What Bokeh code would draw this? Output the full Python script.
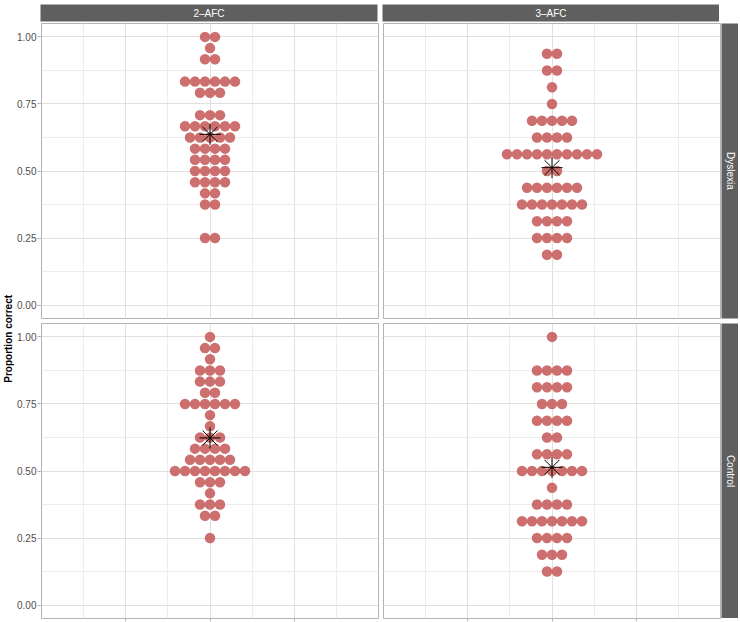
import math
from bokeh.plotting import figure
from bokeh.layouts import row, column
from bokeh.models import Range1d, FixedTicker, Label, Spacer
from bokeh.embed import file_html
from bokeh.resources import INLINE

# ---------------- data ----------------
col_labels = ["2\u2013AFC", "3\u2013AFC"]
row_labels = ["Dyslexia", "Control"]
y_label = "Proportion correct"
y_ticks = [0.0, 0.25, 0.5, 0.75, 1.0]
y_tick_labels = ["0.00", "0.25", "0.50", "0.75", "1.00"]

# 2-AFC, Dyslexia: proportion levels and number of participants at each
afc2_dys_prop = [1.0, 0.9583, 0.9167, 0.8333, 0.7917, 0.7083, 0.6667, 0.625,
                 0.5833, 0.5417, 0.5, 0.4583, 0.4167, 0.375, 0.25]
afc2_dys_count = [2, 1, 2, 6, 3, 3, 6, 5, 4, 4, 4, 4, 2, 2, 2]

# 3-AFC, Dyslexia
afc3_dys_prop = [0.9375, 0.875, 0.8125, 0.75, 0.6875, 0.625, 0.5625, 0.5,
                 0.4375, 0.375, 0.3125, 0.25, 0.1875]
afc3_dys_count = [2, 2, 1, 1, 5, 4, 10, 2, 6, 7, 4, 4, 2]

# 2-AFC, Control
afc2_ctl_prop = [1.0, 0.9583, 0.9167, 0.875, 0.8333, 0.7917, 0.75, 0.7083, 0.6667,
                 0.625, 0.5833, 0.5417, 0.5, 0.4583, 0.4167, 0.375, 0.3333, 0.25]
afc2_ctl_count = [1, 2, 1, 3, 3, 2, 6, 1, 1, 3, 4, 5, 8, 3, 1, 3, 2, 1]

# 3-AFC, Control
afc3_ctl_prop = [1.0, 0.875, 0.8125, 0.75, 0.6875, 0.625, 0.5625, 0.5, 0.4375,
                 0.375, 0.3125, 0.25, 0.1875, 0.125]
afc3_ctl_count = [1, 4, 4, 3, 4, 2, 4, 7, 1, 4, 7, 4, 3, 2]

# ---------------- layout / style ----------------
TOP, LAB, AX, W, GAP, SGAP, RGAP, STRIP, H, BOT = 4, 14, 26, 337, 5, 2, 1, 17, 295, 4
DOT = 10.5
FONT = "Liberation Sans"
STRIP_FILL = "#5f5f5f"
DOT_COLOR = "#c85f5f"
BORDER = "#b3b3b3"
GRID_MAJOR = "#e0e0e0"
GRID_MINOR = "#ececec"
XR = (-2.0, 2.0)
YR = (-0.05, 1.05)


def swarm(props, counts):
    dx = 10.0 * (XR[1] - XR[0]) / W
    xs, ys = [], []
    for pv, n in zip(props, counts):
        for i in range(n):
            xs.append((i - (n - 1) / 2.0) * dx)
            ys.append(pv)
    return xs, ys


def mean_of(props, counts):
    return sum(p * c for p, c in zip(props, counts)) / sum(counts)


def panel(props, counts, left_axis, bottom_axis, mb_right, mb_bottom):
    p = figure(frame_width=W, frame_height=H, x_range=Range1d(*XR), y_range=Range1d(*YR),
               x_axis_location="below" if bottom_axis else None,
               y_axis_location="left" if left_axis else None,
               title=None, toolbar_location=None, output_backend="svg",
               min_border=0, min_border_left=AX if left_axis else 0,
               min_border_right=mb_right, min_border_bottom=mb_bottom, min_border_top=0,
               background_fill_color="white", border_fill_color="white",
               outline_line_color=BORDER, outline_line_width=1)
    p.xgrid.ticker = FixedTicker(ticks=[-1, 0, 1], minor_ticks=[-1.5, -0.5, 0.5, 1.5])
    p.ygrid.ticker = FixedTicker(ticks=y_ticks, minor_ticks=[0.125, 0.375, 0.625, 0.875])
    for g in (p.xgrid, p.ygrid):
        g.grid_line_color = GRID_MAJOR
        g.grid_line_width = 1
        g.minor_grid_line_color = GRID_MINOR
        g.minor_grid_line_width = 1
    if left_axis:
        ax = p.yaxis[0]
        ax.ticker = FixedTicker(ticks=y_ticks)
        ax.major_label_overrides = dict(zip(y_ticks, y_tick_labels))
        ax.axis_line_color = None
        ax.major_tick_out = 4
        ax.major_tick_in = 0
        ax.minor_tick_out = 0
        ax.minor_tick_in = 0
        ax.major_tick_line_color = BORDER
        ax.major_label_standoff = 1
        ax.major_label_text_font = FONT
        ax.major_label_text_font_size = "10px"
        ax.major_label_text_color = "#4d4d4d"
    if bottom_axis:
        bx = p.xaxis[0]
        bx.ticker = FixedTicker(ticks=[-1, 0, 1])
        bx.major_label_overrides = {-1: "", 0: "", 1: ""}
        bx.axis_line_color = None
        bx.major_tick_out = 3
        bx.major_tick_in = 0
        bx.minor_tick_out = 0
        bx.minor_tick_in = 0
        bx.major_tick_line_color = BORDER
        bx.major_label_standoff = 0
        bx.major_label_text_font_size = "1px"
    xs, ys = swarm(props, counts)
    p.scatter(xs, ys, marker="circle", size=DOT, fill_color=DOT_COLOR, fill_alpha=0.9,
              line_color=None)
    m = mean_of(props, counts)
    p.scatter([0], [m], marker="asterisk", size=21, line_color="black", line_width=1)
    return p


def strip(text, fw, fh, angle, mb_right=0, mb_bottom=0, mb_top=0):
    s = figure(frame_width=fw, frame_height=fh, x_range=Range1d(0, 1), y_range=Range1d(0, 1),
               x_axis_location=None, y_axis_location=None, title=None,
               toolbar_location=None, output_backend="svg",
               min_border=0, min_border_right=mb_right, min_border_bottom=mb_bottom,
               min_border_left=0, min_border_top=mb_top,
               background_fill_color=STRIP_FILL, border_fill_color="white",
               outline_line_color=None)
    s.grid.visible = False
    s.add_layout(Label(x=0.5, y=0.5, text=text, angle=angle, text_align="center",
                       text_baseline="middle", text_color="white", text_font=FONT,
                       text_font_size="10px"))
    return s


p_tl = panel(afc2_dys_prop, afc2_dys_count, True, False, GAP, GAP)
p_tr = panel(afc3_dys_prop, afc3_dys_count, False, False, RGAP, GAP)
p_bl = panel(afc2_ctl_prop, afc2_ctl_count, True, True, GAP, BOT)
p_br = panel(afc3_ctl_prop, afc3_ctl_count, False, True, RGAP, BOT)

s_top_l = strip(col_labels[0], W, STRIP, 0, mb_right=GAP, mb_bottom=SGAP, mb_top=TOP)
s_top_r = strip(col_labels[1], W, STRIP, 0, mb_bottom=SGAP, mb_top=TOP)
s_dys = strip(row_labels[0], STRIP, H, -math.pi / 2, mb_bottom=GAP)
s_ctl = strip(row_labels[1], STRIP, H, -math.pi / 2)

lab = figure(frame_width=LAB, frame_height=2 * H + GAP, x_range=Range1d(0, 1),
             y_range=Range1d(0, 1), x_axis_location=None, y_axis_location=None,
             title=None, toolbar_location=None, output_backend="svg",
             min_border=0, min_border_top=TOP + STRIP + SGAP, min_border_bottom=BOT,
             min_border_left=0, min_border_right=0,
             background_fill_color="white", border_fill_color="white",
             outline_line_color=None)
lab.grid.visible = False
lab.add_layout(Label(x=0.6, y=0.47, text=y_label, angle=math.pi / 2, text_align="center",
                     text_baseline="middle", text_color="black", text_font=FONT,
                     text_font_size="10px", text_font_style="bold"))

grid_col = column(
    row(Spacer(width=AX, height=TOP + STRIP + SGAP), s_top_l, s_top_r, spacing=0),
    row(p_tl, p_tr, s_dys, spacing=0),
    row(p_bl, p_br, s_ctl, spacing=0),
    spacing=0,
)
layout = row(lab, grid_col, spacing=0)

open("out.html", "w").write(file_html(layout, INLINE))
